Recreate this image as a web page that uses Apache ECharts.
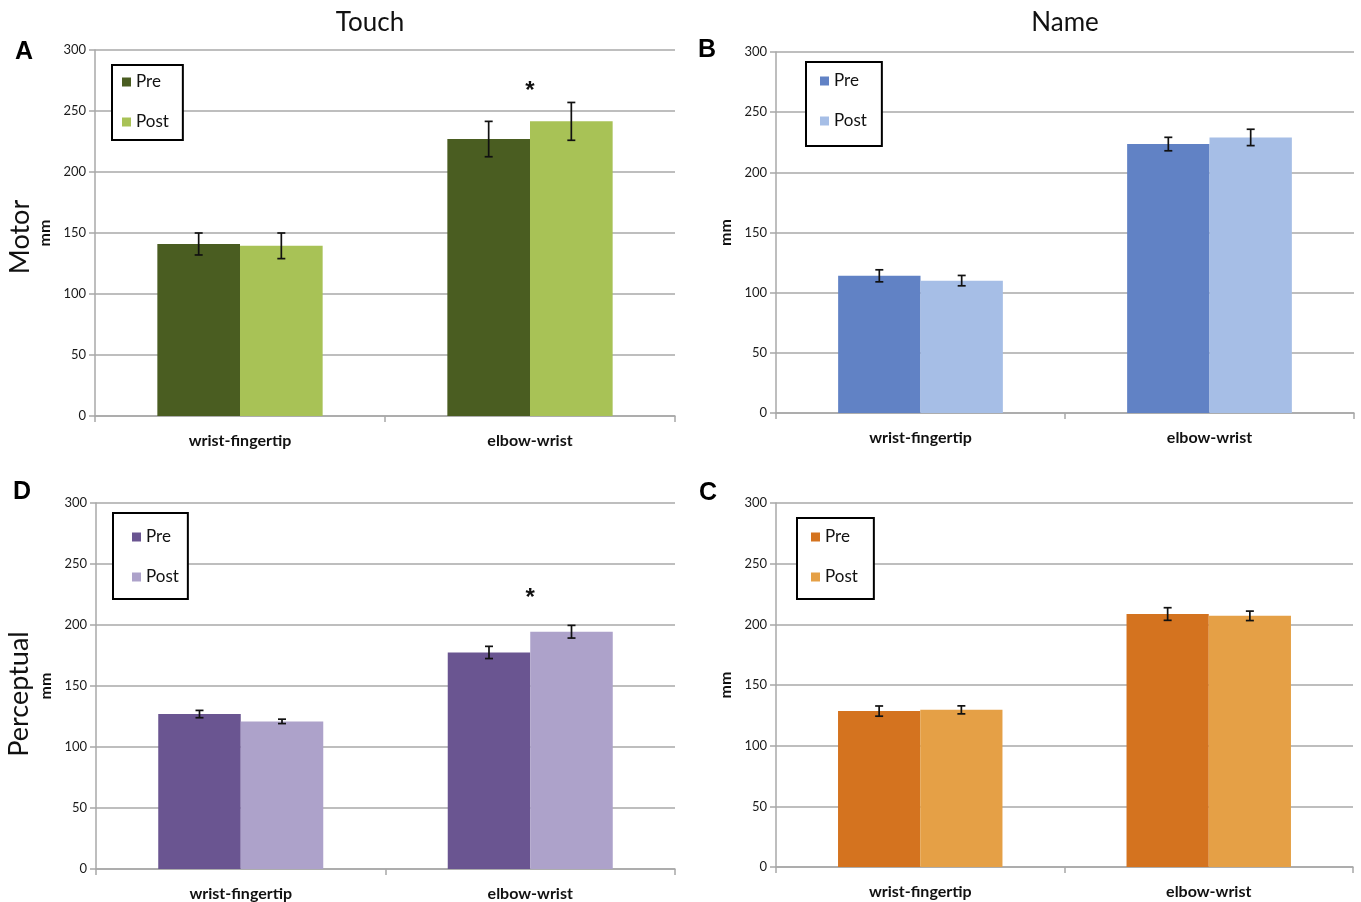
<!DOCTYPE html>
<html>
<head>
<meta charset="utf-8">
<script src="https://cdn.jsdelivr.net/npm/echarts@6/dist/echarts.min.js"></script>
<style>
html,body{margin:0;padding:0;background:#fff;}
#main{width:1361px;height:902px;}
</style>
</head>
<body>
<div id="main"></div>
<script>
// ---- data ----
const categories = ['wrist-fingertip', 'elbow-wrist'];
const yTicks = [0, 50, 100, 150, 200, 250, 300];

// Panel A: Touch / Motor
const touchMotorPre = [141, 227];
const touchMotorPreErr = [9, 14.5];
const touchMotorPost = [139.5, 241.5];
const touchMotorPostErr = [10.5, 15.5];
const touchMotorSig = [[1, 270]];

// Panel B: Name / Motor
const nameMotorPre = [114, 223.5];
const nameMotorPreErr = [5, 5.6];
const nameMotorPost = [110, 229];
const nameMotorPostErr = [4.3, 6.8];
const nameMotorSig = [];

// Panel D: Touch / Perceptual
const touchPercPre = [127, 177.5];
const touchPercPreErr = [3, 5];
const touchPercPost = [121, 194.5];
const touchPercPostErr = [1.8, 5.2];
const touchPercSig = [[1, 226]];

// Panel C: Name / Perceptual
const namePercPre = [128.5, 208.5];
const namePercPreErr = [4.2, 5.2];
const namePercPost = [129.5, 207];
const namePercPostErr = [3.3, 3.9];
const namePercSig = [];

// ---- layout / styles ----
const panels = [
  {key:'A', grid:{left:95, top:50, width:580, height:366},
   pre:touchMotorPre, preErr:touchMotorPreErr, post:touchMotorPost, postErr:touchMotorPostErr, sig:touchMotorSig,
   colors:['#4a5d21','#a8c256'], legend:{left:112, top:65, padding:[7,14,8,10]}},
  {key:'B', grid:{left:776, top:52, width:578, height:361},
   pre:nameMotorPre, preErr:nameMotorPreErr, post:nameMotorPost, postErr:nameMotorPostErr, sig:nameMotorSig,
   colors:['#6182c5','#a6bee6'], legend:{left:806, top:62, padding:[9,15,15,14]}},
  {key:'D', grid:{left:96, top:503, width:579, height:366},
   pre:touchPercPre, preErr:touchPercPreErr, post:touchPercPost, postErr:touchPercPostErr, sig:touchPercSig,
   colors:['#6a5591','#ada2ca'], legend:{left:113, top:513, padding:[14,9,12,19]}},
  {key:'C', grid:{left:776, top:503, width:577, height:364},
   pre:namePercPre, preErr:namePercPreErr, post:namePercPost, postErr:namePercPostErr, sig:namePercSig,
   colors:['#d4731f','#e5a046'], legend:{left:797, top:518, padding:[9,16,12,14]}}
];

const GAP = 0.43; // barCategoryGap fraction
const gridColor = '#a8a8a8';
const font = 'Lato, "Open Sans", sans-serif';

const grids = [], xAxes = [], yAxes = [], series = [], legends = [];

panels.forEach((p, i) => {
  grids.push(Object.assign({}, p.grid, {containLabel:false}));
  xAxes.push({
    type:'category', gridIndex:i, data:categories,
    axisLine:{show:true, lineStyle:{color:gridColor, width:1.5}},
    axisTick:{show:true, length:6, lineStyle:{color:gridColor, width:1.5}},
    axisLabel:{margin:17, fontSize:16, fontWeight:'bold', color:'#111', fontFamily:font}
  });
  yAxes.push({
    type:'value', gridIndex:i, min:yTicks[0], max:yTicks[yTicks.length-1], interval:50,
    name:'mm', nameLocation:'middle', nameRotate:90, nameGap:42,
    nameTextStyle:{fontSize:16, fontWeight:'bold', color:'#111', fontFamily:font},
    axisLine:{show:true, lineStyle:{color:gridColor, width:1.5}},
    axisTick:{show:true, length:6, lineStyle:{color:gridColor, width:1.5}},
    axisLabel:{margin:9, fontSize:13, color:'#1a1a1a', fontFamily:font},
    splitLine:{show:true, lineStyle:{color:gridColor, width:1.5}}
  });
  const preName = 'Pre ' + p.key, postName = 'Post ' + p.key;
  series.push({
    name:preName, type:'bar', xAxisIndex:i, yAxisIndex:i, data:p.pre,
    barGap:'0%', barCategoryGap:(GAP*100)+'%',
    itemStyle:{color:p.colors[0]}, emphasis:{disabled:true}
  });
  series.push({
    name:postName, type:'bar', xAxisIndex:i, yAxisIndex:i, data:p.post,
    barGap:'0%', barCategoryGap:(GAP*100)+'%',
    itemStyle:{color:p.colors[1]}, emphasis:{disabled:true}
  });
  const errData = [];
  p.pre.forEach((v, k) => errData.push([k, v, p.preErr[k], 0]));
  p.post.forEach((v, k) => errData.push([k, v, p.postErr[k], 1]));
  series.push({
    type:'custom', xAxisIndex:i, yAxisIndex:i, data:errData, z:10, silent:true,
    renderItem:function(params, api){
      const cat = api.value(0), mean = api.value(1), err = api.value(2), side = api.value(3);
      const band = api.size([1, 0])[0];
      const barW = band * (1 - GAP) / 2;
      const c = api.coord([cat, mean]);
      const x = c[0] + (side === 0 ? -barW/2 : barW/2);
      const yt = api.coord([cat, mean + err])[1];
      const yb = api.coord([cat, mean - err])[1];
      const cap = 4;
      const st = {stroke:'#111', lineWidth:1.7};
      return {type:'group', children:[
        {type:'line', shape:{x1:x, y1:yt, x2:x, y2:yb}, style:st},
        {type:'line', shape:{x1:x-cap, y1:yt, x2:x+cap, y2:yt}, style:st},
        {type:'line', shape:{x1:x-cap, y1:yb, x2:x+cap, y2:yb}, style:st}
      ]};
    }
  });
  if (p.sig.length) {
    series.push({
      type:'custom', xAxisIndex:i, yAxisIndex:i, data:p.sig, z:10, silent:true,
      renderItem:function(params, api){
        const c = api.coord([api.value(0), api.value(1)]);
        return {type:'text', x:c[0], y:c[1] + 5, style:{text:'*', fontSize:24, fontWeight:'bold',
          fontFamily:'"Liberation Sans", Arial, sans-serif', fill:'#111', align:'center', verticalAlign:'middle'}};
      }
    });
  }
  legends.push({
    data:[preName, postName], orient:'vertical',
    left:p.legend.left, top:p.legend.top, padding:p.legend.padding,
    borderColor:'#000', borderWidth:2, backgroundColor:'#fff',
    itemWidth:9, itemHeight:9, itemGap:20, icon:'rect', selectedMode:false,
    formatter:function(n){ return n.split(' ')[0]; },
    textStyle:{fontSize:17, lineHeight:20, color:'#111', fontFamily:font}
  });
});

const letterFont = '"Liberation Sans", Arial, sans-serif';
const graphic = [
  {type:'text', x:370, y:23, style:{text:'Touch', fontSize:26, fontFamily:font, fill:'#111', align:'center', verticalAlign:'middle'}},
  {type:'text', x:1065, y:23, style:{text:'Name', fontSize:26, fontFamily:font, fill:'#111', align:'center', verticalAlign:'middle'}},
  {type:'text', x:24, y:52, style:{text:'A', fontSize:25, fontWeight:'bold', fontFamily:letterFont, fill:'#000', align:'center', verticalAlign:'middle'}},
  {type:'text', x:707, y:50, style:{text:'B', fontSize:25, fontWeight:'bold', fontFamily:letterFont, fill:'#000', align:'center', verticalAlign:'middle'}},
  {type:'text', x:22, y:492, style:{text:'D', fontSize:25, fontWeight:'bold', fontFamily:letterFont, fill:'#000', align:'center', verticalAlign:'middle'}},
  {type:'text', x:708, y:493, style:{text:'C', fontSize:25, fontWeight:'bold', fontFamily:letterFont, fill:'#000', align:'center', verticalAlign:'middle'}},
  {type:'text', x:20, y:237, rotation:Math.PI/2, style:{text:'Motor', fontSize:27, fontFamily:font, fill:'#111', align:'center', verticalAlign:'middle'}},
  {type:'text', x:19, y:694, rotation:Math.PI/2, style:{text:'Perceptual', fontSize:27, fontFamily:font, fill:'#111', align:'center', verticalAlign:'middle'}}
];

const chart = echarts.init(document.getElementById('main'), null, {renderer:'canvas'});
chart.setOption({
  animation:false,
  backgroundColor:'#fff',
  grid:grids, xAxis:xAxes, yAxis:yAxes, series:series, legend:legends, graphic:graphic
});
</script>
</body>
</html>
